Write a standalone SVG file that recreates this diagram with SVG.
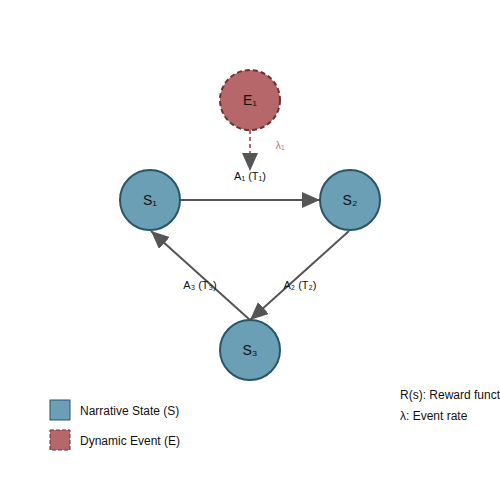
<svg xmlns="http://www.w3.org/2000/svg" width="500" height="500" viewBox="0 0 500 500">
<style>
text{font-family:"Liberation Sans",Arial,sans-serif;fill:#111}
.state{fill:#6a9fb5;stroke:#2a5566;stroke-width:2}
.event{fill:#b5676a;stroke:#6e3133;stroke-width:2;stroke-dasharray:5,3}
.edge{stroke:#555;stroke-width:2;fill:none}
.dyn{stroke:#b5676a;stroke-width:2;stroke-dasharray:4,3;fill:none}
.nl{font-size:14px;text-anchor:middle}
.el{font-size:11px;text-anchor:middle}
.lg{font-size:12px}
</style>
<defs>
<marker id="ah" markerUnits="userSpaceOnUse" markerWidth="20" markerHeight="16" refX="18" refY="8" orient="auto">
<path d="M0,0 L18,8 L0,16 Z" fill="#555"/>
</marker>
</defs>
<rect width="500" height="500" fill="#fff"/>
<g id="connectors">
<line class="edge" x1="180" y1="200" x2="320" y2="200" marker-end="url(#ah)"/>
<line class="edge" x1="349" y1="231" x2="250" y2="320" marker-end="url(#ah)"/>
<line class="edge" x1="250" y1="320" x2="151" y2="231" marker-end="url(#ah)"/>
<line class="dyn" x1="250" y1="130" x2="250" y2="171" marker-end="url(#ah)"/>
<text class="el" x="250" y="180">A₁ (T₁)</text>
<text class="el" x="300" y="289">A₂ (T₂)</text>
<text class="el" x="200" y="289">A₃ (T₃)</text>
<text x="280" y="149" style="font-size:11px;fill:#c07a7c;text-anchor:middle">λ₁</text>
</g>
<g id="E1">
<circle class="event" cx="250" cy="100" r="30"/>
<text class="nl" x="250" y="105">E₁</text>
</g>
<g id="S1">
<circle class="state" cx="150" cy="200" r="30"/>
<text class="nl" x="150" y="205">S₁</text>
</g>
<g id="S2">
<circle class="state" cx="350" cy="200" r="30"/>
<text class="nl" x="350" y="205">S₂</text>
</g>
<g id="S3">
<circle class="state" cx="250" cy="350" r="30"/>
<text class="nl" x="250" y="355">S₃</text>
</g>
<g id="legend">
<rect x="50" y="400" width="20" height="20" fill="#6a9fb5" stroke="#2a5566" stroke-width="1"/>
<text class="lg" x="80" y="415">Narrative State (S)</text>
<rect x="50" y="430" width="20" height="20" fill="#b5676a" stroke="#6e3133" stroke-width="1" stroke-dasharray="4,2"/>
<text class="lg" x="80" y="445">Dynamic Event (E)</text>
<text class="lg" x="400" y="399">R(s): Reward function</text>
<text class="lg" x="400" y="420">λ: Event rate</text>
</g>
</svg>
